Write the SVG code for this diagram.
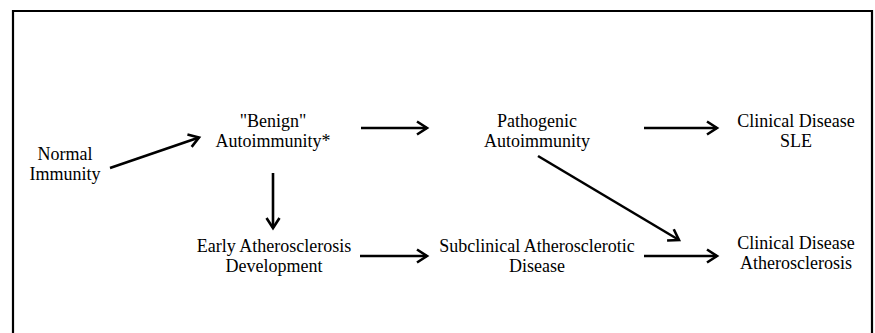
<svg xmlns="http://www.w3.org/2000/svg" width="875" height="333" viewBox="0 0 875 333">
<style>
text{font-family:"Liberation Serif","DejaVu Serif","Times New Roman",Times,serif;font-size:18px;fill:#000;text-anchor:middle}
.c{stroke:#000;stroke-width:2.6;fill:none}
</style>
<defs>
<marker id="ah" markerUnits="userSpaceOnUse" markerWidth="20" markerHeight="20" viewBox="-12 -10 14 20" refX="0" refY="0" orient="auto">
<path d="M-10,-6.5 L0,0 L-10,6.5" stroke="#000" stroke-width="2.6" fill="none" stroke-linejoin="miter"/>
</marker>
</defs>
<rect width="875" height="333" fill="#fff"/>
<path d="M13,333 V11 H872 V333" stroke="#000" stroke-width="2.2" fill="none"/>
<g id="normal" font-family="Liberation Serif, serif"><text x="65" y="160">Normal</text><text x="65" y="180">Immunity</text></g>
<g id="benign"><text x="273" y="127">"Benign"</text><text x="273" y="147">Autoimmunity*</text></g>
<g id="pathogenic"><text x="537" y="127">Pathogenic</text><text x="537" y="147">Autoimmunity</text></g>
<g id="sle"><text x="796" y="127">Clinical Disease</text><text x="796" y="147">SLE</text></g>
<g id="early"><text x="274" y="252">Early Atherosclerosis</text><text x="274" y="272">Development</text></g>
<g id="subclinical"><text x="537" y="252">Subclinical Atherosclerotic</text><text x="537" y="272">Disease</text></g>
<g id="clinathero"><text x="796" y="249">Clinical Disease</text><text x="796" y="269">Atherosclerosis</text></g>
<g id="connectors" class="c">
<line x1="110" y1="168" x2="199" y2="137.5" marker-end="url(#ah)"/>
<line x1="361" y1="128" x2="427" y2="128" marker-end="url(#ah)"/>
<line x1="273" y1="173" x2="273" y2="228" marker-end="url(#ah)"/>
<line x1="644" y1="128" x2="717" y2="128" marker-end="url(#ah)"/>
<line x1="538" y1="156" x2="679" y2="240" marker-end="url(#ah)"/>
<line x1="360" y1="256" x2="427" y2="256" marker-end="url(#ah)"/>
<line x1="644" y1="256" x2="717" y2="256" marker-end="url(#ah)"/>
</g>
</svg>
